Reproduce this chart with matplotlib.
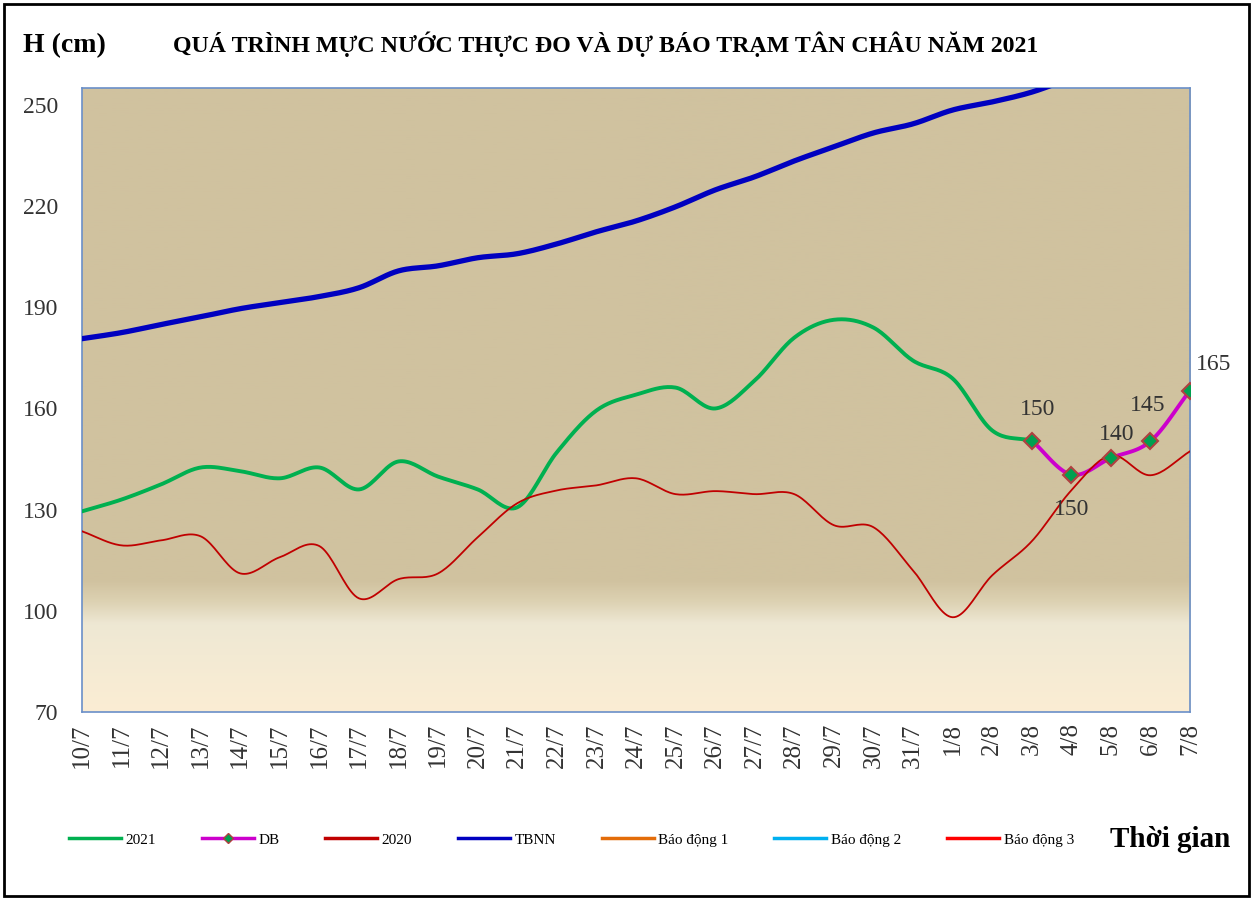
import numpy as np
import matplotlib
matplotlib.use("Agg")
import matplotlib.pyplot as plt
from matplotlib.colors import LinearSegmentedColormap
from matplotlib.patches import Rectangle

plt.rcParams['font.family'] = ['Liberation Serif', 'DejaVu Serif']

# categories
days = ['10/7', '11/7', '12/7', '13/7', '14/7', '15/7', '16/7', '17/7', '18/7', '19/7',
        '20/7', '21/7', '22/7', '23/7', '24/7', '25/7', '26/7', '27/7', '28/7', '29/7',
        '30/7', '31/7', '1/8', '2/8', '3/8', '4/8', '5/8', '6/8', '7/8']

# measured 2021 (up to 3/8)
h2021 = [129.5, 133.0, 137.5, 142.5, 141.4, 139.3, 142.5, 136.0, 144.3, 139.8,
         136.0, 130.7, 147.0, 159.4, 164.1, 166.2, 160.0, 168.3, 181.0, 186.3,
         184.0, 174.2, 168.9, 153.5, 150.5]
# forecast 3/8 .. 7/8
h_db = [150.5, 140.4, 145.3, 150.3, 165.3]
db_labels = ['150', '150', '140', '145', '165']
# year 2020
h2020 = [123.6, 119.4, 120.9, 122.1, 111.1, 115.9, 119.2, 103.7, 109.4, 111.1,
         121.8, 131.9, 135.7, 137.2, 139.3, 134.6, 135.5, 134.6, 134.6, 125.4,
         124.8, 112.0, 98.1, 110.5, 120.6, 135.7, 146.1, 140.2, 147.3]
# long term average
tbnn = [180.7, 182.5, 184.9, 187.2, 189.6, 191.4, 193.2, 195.8, 200.8, 202.3,
        204.7, 205.9, 208.8, 212.4, 215.6, 219.8, 224.8, 228.7, 233.4, 237.6,
        241.7, 244.4, 248.5, 250.9, 253.8, 258.0, 262.0, 266.0, 270.0]
# alarm levels
bd1, bd2, bd3 = 350, 400, 450


def smooth(x, y, n=20):
    # catmull-rom style curve like excel "smoothed line"
    x = np.asarray(x, float)
    y = np.asarray(y, float)
    px = np.concatenate([[2 * x[0] - x[1]], x, [2 * x[-1] - x[-2]]])
    py = np.concatenate([[2 * y[0] - y[1]], y, [2 * y[-1] - y[-2]]])
    xs, ys = [], []
    t = np.linspace(0, 1, n, endpoint=False)
    for i in range(1, len(px) - 2):
        p0, p1, p2, p3 = py[i - 1], py[i], py[i + 1], py[i + 2]
        q0, q1, q2, q3 = px[i - 1], px[i], px[i + 1], px[i + 2]
        f = lambda a0, a1, a2, a3: 0.5 * ((2 * a1) + (-a0 + a2) * t +
                                          (2 * a0 - 5 * a1 + 4 * a2 - a3) * t ** 2 +
                                          (-a0 + 3 * a1 - 3 * a2 + a3) * t ** 3)
        xs.append(f(q0, q1, q2, q3))
        ys.append(f(p0, p1, p2, p3))
    xs.append([x[-1]])
    ys.append([y[-1]])
    return np.concatenate(xs), np.concatenate(ys)


fig = plt.figure(figsize=(12.53, 8.99), dpi=100)
fig.patches.append(Rectangle((0.003, 0.003), 0.994, 0.992, transform=fig.transFigure,
                             fill=False, edgecolor='black', linewidth=2))
ax = fig.add_axes([0.0654, 0.208, 0.8843, 0.694])

ymin, ymax = 70, 255
n = len(days)
xi = np.arange(n)

# background gradient
cmap = LinearSegmentedColormap.from_list('bg', [(0, '#FBEDD4'), (0.09, '#F3EAD3'),
                                               (0.14, '#EEE8D4'), (0.175, '#DDD2B3'),
                                               (0.21, '#D0C29F'), (1, '#D0C29F')])
grad = np.linspace(0, 1, 256).reshape(-1, 1)
ax.imshow(grad, cmap=cmap, aspect='auto', origin='lower',
          extent=[0, n - 1, ymin, ymax], zorder=0)

ax.axhline(bd1, color='#E36C09', lw=2)
ax.axhline(bd2, color='#00B0F0', lw=2)
ax.axhline(bd3, color='#FF0000', lw=2)

sx, sy = smooth(xi[:len(h2021)], h2021)
ax.plot(sx, sy, color='#00B050', lw=2.8, zorder=3)
dx = xi[len(h2021) - 1:]
sx, sy = smooth(dx, h_db)
ax.plot(sx, sy, color='#CC00CC', lw=2.8, zorder=3)
ax.plot(dx, h_db, ls='none', marker='D', ms=8, mfc='#00A050', mec='#B04040', mew=1.5, zorder=5)
sx, sy = smooth(xi, h2020)
ax.plot(sx, sy, color='#C00000', lw=1.3, zorder=4)
sx, sy = smooth(xi, tbnn)
ax.plot(sx, sy, color='#0000C0', lw=3.8, zorder=3)

# data labels
offs = [(4, 22), (0, -25), (4, 17), (-2, 26), (17, 19)]
for k, (x, v, lab) in enumerate(zip(dx, h_db, db_labels)):
    ax.annotate(lab, (x, v), xytext=offs[k], textcoords='offset points', ha='center',
                va='center', fontsize=17, color='#333333', annotation_clip=False, zorder=6)

ax.set_xlim(0, n - 1)
ax.set_ylim(ymin, ymax)
ax.set_yticks([70, 100, 130, 160, 190, 220, 250])
ax.set_xticks(xi)
ax.set_xticklabels(days, rotation=90, fontsize=18, color='#333333')
ax.tick_params(axis='y', labelsize=17, labelcolor='#333333', length=0, pad=17)
ax.tick_params(axis='x', length=0, pad=8)
for s in ax.spines.values():
    s.set_color('#6A8FC8')
    s.set_linewidth(1.2)

fig.text(0.018, 0.949, 'H (cm)', fontsize=20, fontweight='bold', va='center')
fig.text(0.483, 0.951, 'QUÁ TRÌNH MỰC NƯỚC THỰC ĐO VÀ DỰ BÁO TRẠM TÂN CHÂU NĂM 2021',
         fontsize=17.2, fontweight='bold', ha='center', va='center')
fig.text(0.982, 0.066, 'Thời gian', fontsize=21, fontweight='bold', ha='right', va='center')

# legend
names = ['2021', 'DB', '2020', 'TBNN', 'Báo động 1', 'Báo động 2', 'Báo động 3']
cols = ['#00B050', '#CC00CC', '#C00000', '#0000C0', '#E36C09', '#00B0F0', '#FF0000']
handles = []
for nm, c in zip(names, cols):
    if nm == 'DB':
        h, = ax.plot([], [], color=c, lw=2.5, marker='D', ms=5, mfc='#00A050', mec='#B04040')
    else:
        h, = ax.plot([], [], color=c, lw=2.5)
    handles.append(h)
fig.legend(handles, names, loc='center', bbox_to_anchor=(0.456, 0.066), ncol=7,
           frameon=False, fontsize=11, handlelength=3.4, columnspacing=3.0,
           handletextpad=0.3)

fig.savefig('out.png', dpi=100)
